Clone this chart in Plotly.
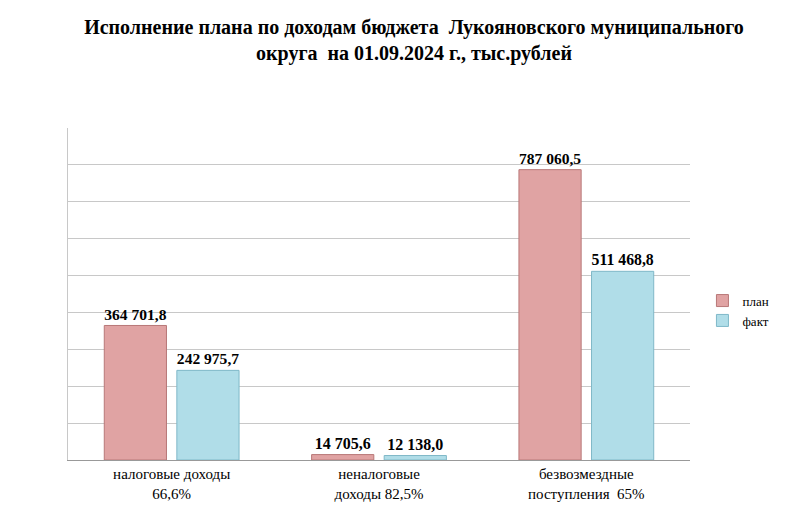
import plotly.graph_objects as go

categories = ["налоговые доходы<br>66,6%", "неналоговые<br>доходы 82,5%", "безвозмездные<br>поступления  65%"]
plan = [364701.8, 14705.6, 787060.5]
fact = [242975.7, 12138.0, 511468.8]

def fmt(v):
    s = f"{v:,.1f}".replace(",", " ").replace(".", ",")
    return "<b>" + s + "</b>"

fig = go.Figure()
fig.add_bar(name="план", x=categories, y=plan, marker=dict(color="#e0a3a3", line=dict(color="#b87878", width=1)),
            text=[fmt(v) for v in plan], textposition="outside")
fig.add_bar(name="факт", x=categories, y=fact, marker=dict(color="#b0dde8", line=dict(color="#7fb8c8", width=1)),
            text=[fmt(v) for v in fact], textposition="outside")
fig.update_traces(textfont=dict(family="Liberation Serif", size=16, color="black"), cliponaxis=False, width=0.3)
fig.update_layout(
    width=812, height=522, barmode="group", bargap=0.3, bargroupgap=0.1,
    paper_bgcolor="white", plot_bgcolor="white",
    font=dict(family="Liberation Serif", size=15, color="black"),
    title=dict(text="<b>Исполнение плана по доходам бюджета  Лукояновского муниципального<br>округа  на 01.09.2024 г., тыс.рублей</b>",
               x=0.5, y=0.95, xanchor="center", font=dict(size=20)),
    margin=dict(l=60, r=130, t=120, b=70),
    legend=dict(x=1.02, y=0.45, font=dict(size=13)),
    yaxis=dict(showticklabels=False, gridcolor="#c8c8c8", range=[0, 900000], dtick=100000, showline=True, linecolor="#c8c8c8"),
    xaxis=dict(showline=True, linecolor="#999", tickfont=dict(size=15)),
)
fig.write_html("out.html")
